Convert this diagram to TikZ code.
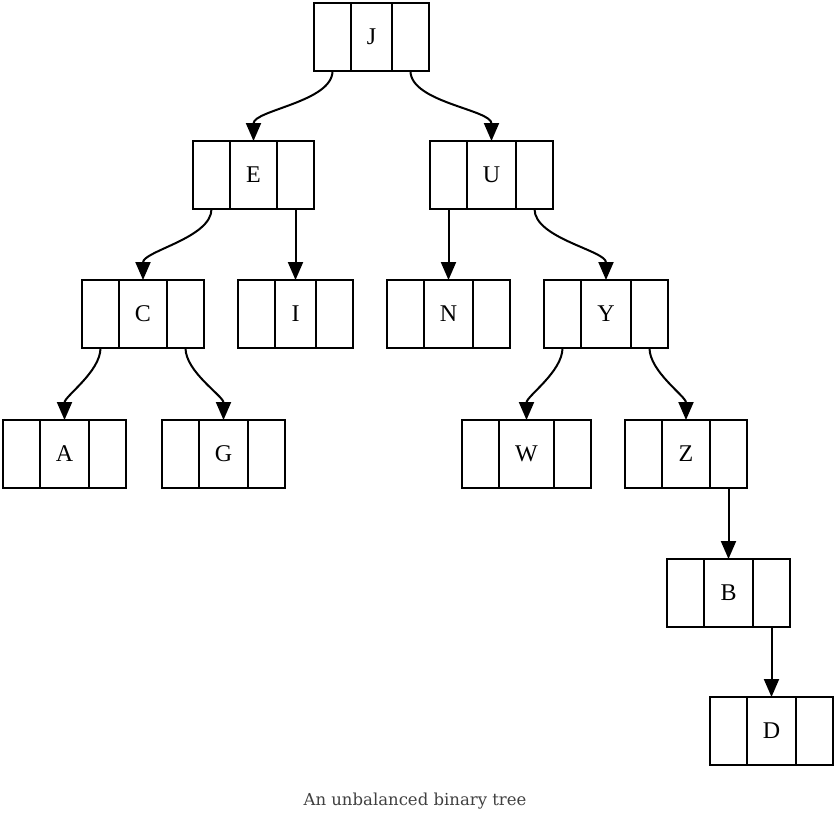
\documentclass[tikz,border=0pt]{standalone}
\usepackage{fontspec}
\setmainfont{Liberation Serif}
\newfontfamily\captionfont{DejaVu Serif}
\usetikzlibrary{arrows.meta}
\tikzset{
	cell/.style={draw, line width=2pt, minimum height=68pt, inner sep=0pt, outer sep=0pt, font=\fontsize{24}{28}\selectfont},
	side/.style={cell, minimum width=37pt},
	edge/.style={line width=2pt, -{Triangle[length=18pt,width=15pt]}, out=-90, in=90, looseness=0.75},
}
\def\record(#1)(#2,#3)[#4]#5{
	\node[cell, minimum width=#4pt] (#1) at (#2,#3) {#5};
	\node[side, anchor=east] (#1-l) at (#1.west) {};
	\node[side, anchor=west] (#1-r) at (#1.east) {};
}

\begin{document}
\begin{tikzpicture}[x=1pt, y=-1pt]
			%%%%% START %%%%%
			
			\useasboundingbox (0, 0) rectangle (836, 814);
			
			\record(J)(371.5, 37)[41]{J}
			
			\record(E)(253.5, 175)[47]{E}
			\record(U)(491.5, 175)[49]{U}
			
			\record(C)(143, 314)[48]{C}
			\record(I)(295.5, 314)[41]{I}
			\record(N)(448.5, 314)[49]{N}
			\record(Y)(606, 314)[50]{Y}
			
			\record(A)(64.5, 454)[49]{A}
			\record(G)(223.5, 454)[49]{G}
			\record(W)(526.5, 454)[55]{W}
			\record(Z)(686, 454)[48]{Z}
			
			\record(B)(728.5, 593)[49]{B}
			
			\record(D)(771.5, 731)[49]{D}
			
			\foreach \parent/\child in {J-l/E, J-r/U, E-l/C, E-r/I, U-l/N, U-r/Y, C-l/A, C-r/G, Y-l/W, Y-r/Z, Z-r/B, B-r/D}
				\draw[edge] (\parent.south) to (\child.north);
			
			\node[anchor=base, text=black!75, font=\captionfont\fontsize{16.5}{20}\selectfont] (caption) at (415, 805) {An unbalanced binary tree};
			
			%%%%% END %%%%%
		\end{tikzpicture}
\end{document}
